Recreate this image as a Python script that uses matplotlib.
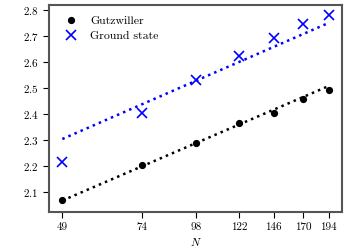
import numpy as np
import matplotlib
matplotlib.use("Agg")
import matplotlib.pyplot as plt
from matplotlib.ticker import FixedLocator, FixedFormatter, NullLocator

plt.rcParams['font.family'] = 'serif'
plt.rcParams['font.serif'] = ['cmr10']
plt.rcParams['mathtext.fontset'] = 'cm'
plt.rcParams['axes.formatter.use_mathtext'] = True
plt.rcParams['font.size'] = 8

N = [49, 74, 98, 122, 146, 170, 194]
gutzwiller = [2.069, 2.203, 2.287, 2.365, 2.405, 2.457, 2.491]
ground_state = [2.214, 2.403, 2.531, 2.623, 2.693, 2.746, 2.783]

# fitted lines (a + b ln N), values at the end points
fit_N = [49, 194]
fit_gutz = [2.067, 2.508]
fit_ground = [2.304, 2.751]

fig = plt.figure(figsize=(3.5, 2.5), dpi=100)
ax = fig.add_axes([0.14, 0.152, 0.837, 0.828])

ax.plot(N, gutzwiller, 'o', color='black', ms=4.2, label='Gutzwiller')
ax.plot(N, ground_state, 'x', color='blue', ms=7, mew=1.2, label='Ground state')
ax.plot(fit_N, fit_gutz, ':', color='black', lw=1.8)
ax.plot(fit_N, fit_ground, ':', color='blue', lw=1.8)

ax.set_xscale('log')
ax.xaxis.set_major_locator(FixedLocator(N))
ax.xaxis.set_major_formatter(FixedFormatter([str(n) for n in N]))
ax.xaxis.set_minor_locator(NullLocator())
ax.set_yticks([2.1, 2.2, 2.3, 2.4, 2.5, 2.6, 2.7, 2.8])
ax.set_ylim(2.023, 2.82)
ax.set_xlabel('$N$', labelpad=3)

for s in ax.spines.values():
    s.set_color('#555555')
    s.set_linewidth(1.5)
ax.tick_params(length=4, width=0.8, color='black')

ax.legend(loc='upper left', frameon=False, fontsize=8.5, handletextpad=0.6,
          borderaxespad=0.5, labelspacing=0.45)

fig.savefig('out.png', dpi=100)
